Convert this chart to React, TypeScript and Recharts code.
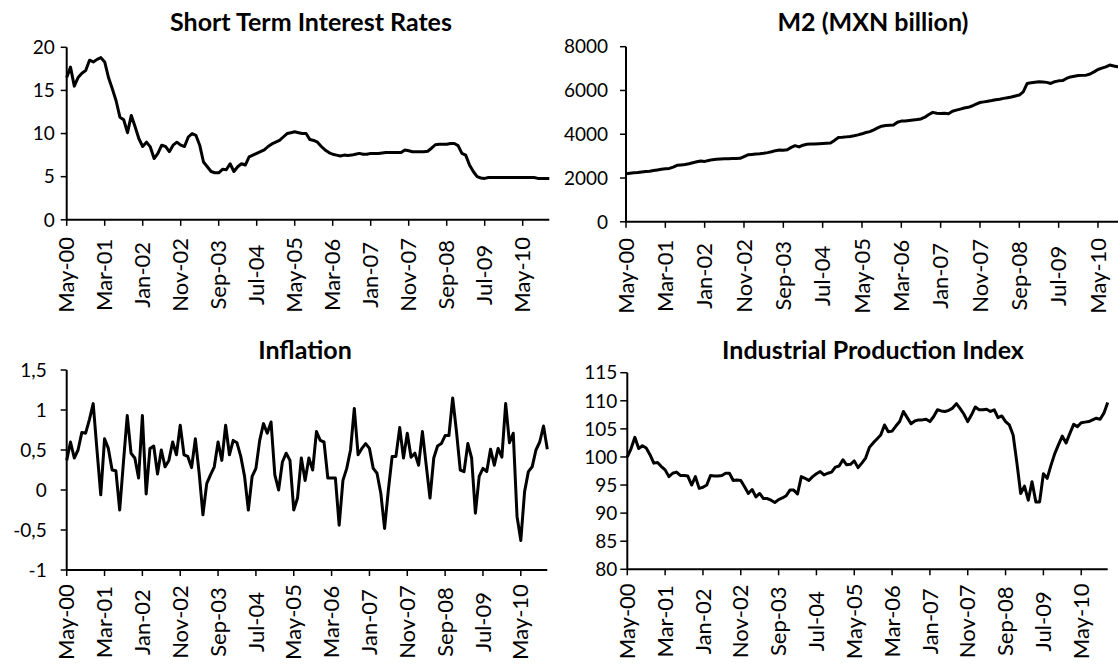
import React from "react";
import { LineChart, Line, XAxis, YAxis } from "recharts";

// monthly observations, May-2000 .. Dec-2010 (128 months)
const MONTHS = ["Jan", "Feb", "Mar", "Apr", "May", "Jun", "Jul", "Aug", "Sep", "Oct", "Nov", "Dec"];
const months: string[] = [];
for (let i = 0; i < 128; i++) {
  const m = (4 + i) % 12;
  const y = Math.floor((4 + i) / 12);
  months.push(`${MONTHS[m]}-${String(y).padStart(2, "0")}`);
}

const interestRates = [
  16.5, 17.7, 15.5, 16.5, 17.0, 17.3, 18.5, 18.3, 18.6, 18.8,
  18.3, 16.5, 15.2, 13.8, 11.9, 11.6, 10.1, 12.1, 10.8, 9.4,
  8.5, 9.0, 8.45, 7.1, 7.7, 8.65, 8.5, 7.9, 8.65, 9.0,
  8.65, 8.5, 9.6, 10.0, 9.8, 8.65, 6.7, 6.15, 5.6, 5.45,
  5.45, 5.85, 5.8, 6.5, 5.6, 6.15, 6.5, 6.35, 7.3, 7.5,
  7.7, 7.9, 8.1, 8.5, 8.8, 9.0, 9.2, 9.6, 10.0, 10.1,
  10.2, 10.1, 10.0, 10.0, 9.3, 9.2, 9.0, 8.5, 8.1, 7.8,
  7.6, 7.5, 7.4, 7.5, 7.45, 7.5, 7.6, 7.7, 7.6, 7.6,
  7.7, 7.7, 7.7, 7.75, 7.8, 7.8, 7.8, 7.8, 7.8, 8.1,
  8.0, 7.9, 7.9, 7.9, 7.9, 7.95, 8.3, 8.7, 8.75, 8.75,
  8.75, 8.85, 8.85, 8.6, 7.7, 7.5, 6.35, 5.6, 5.0, 4.85,
  4.8, 4.9, 4.9, 4.9, 4.9, 4.9, 4.9, 4.9, 4.9, 4.9,
  4.9, 4.9, 4.9, 4.9, 4.8, 4.8, 4.8, 4.8,
];

const m2 = [
  2200, 2220, 2240, 2250, 2280, 2300, 2310, 2340, 2370, 2400,
  2420, 2440, 2500, 2580, 2600, 2620, 2650, 2700, 2740, 2780,
  2760, 2800, 2840, 2860, 2870, 2880, 2880, 2890, 2890, 2900,
  2980, 3060, 3080, 3100, 3110, 3130, 3160, 3200, 3250, 3280,
  3270, 3290, 3400, 3480, 3420, 3500, 3540, 3550, 3560, 3570,
  3580, 3590, 3600, 3720, 3850, 3860, 3880, 3900, 3930, 3970,
  4020, 4080, 4120, 4200, 4290, 4370, 4400, 4410, 4420, 4550,
  4600, 4610, 4630, 4650, 4670, 4700, 4780, 4900, 5000, 4960,
  4950, 4960, 4940, 5050, 5100, 5150, 5200, 5230, 5290, 5380,
  5450, 5480, 5510, 5540, 5580, 5600, 5640, 5670, 5700, 5750,
  5790, 5940, 6320, 6350, 6380, 6400, 6390, 6370, 6320, 6400,
  6440, 6450, 6550, 6620, 6650, 6680, 6690, 6700, 6750, 6850,
  6960, 7020, 7080, 7160, 7120, 7080, 7100, 7150,
];

const inflation = [
  0.37, 0.6, 0.4, 0.5, 0.72, 0.71, 0.88, 1.08, 0.5, -0.06,
  0.64, 0.52, 0.25, 0.24, -0.25, 0.35, 0.93, 0.46, 0.4, 0.15,
  0.93, -0.05, 0.52, 0.55, 0.2, 0.5, 0.29, 0.37, 0.6, 0.44,
  0.81, 0.44, 0.42, 0.28, 0.64, 0.21, -0.31, 0.08, 0.19, 0.29,
  0.6, 0.37, 0.81, 0.44, 0.62, 0.59, 0.42, 0.17, -0.25, 0.17,
  0.27, 0.62, 0.83, 0.71, 0.85, 0.19, 0.0, 0.35, 0.46, 0.37,
  -0.25, -0.1, 0.4, 0.12, 0.4, 0.25, 0.73, 0.62, 0.6, 0.15,
  0.15, 0.15, -0.44, 0.12, 0.27, 0.5, 1.02, 0.44, 0.52, 0.58,
  0.52, 0.27, 0.21, -0.04, -0.48, 0.0, 0.42, 0.42, 0.78, 0.4,
  0.71, 0.41, 0.46, 0.31, 0.73, 0.31, -0.1, 0.4, 0.55, 0.58,
  0.68, 0.68, 1.15, 0.73, 0.25, 0.23, 0.58, 0.4, -0.29, 0.17,
  0.27, 0.23, 0.51, 0.31, 0.52, 0.41, 1.08, 0.59, 0.71, -0.33,
  -0.63, -0.02, 0.23, 0.29, 0.5, 0.6, 0.8, 0.51,
];

const industrialProduction = [
  100.0, 101.5, 103.5, 101.5, 102.0, 101.6, 100.4, 98.9, 99.0, 98.3,
  97.7, 96.5, 97.1, 97.3, 96.7, 96.7, 96.6, 95.0, 96.5, 94.4,
  94.6, 95.0, 96.7, 96.6, 96.6, 96.7, 97.1, 97.1, 95.8, 95.9,
  95.8, 94.7, 93.5, 94.2, 92.9, 93.5, 92.6, 92.6, 92.3, 91.9,
  92.4, 92.7, 93.1, 94.1, 94.1, 93.4, 96.5, 96.2, 95.8, 96.5,
  97.0, 97.4, 96.8, 97.1, 97.3, 98.2, 98.4, 99.5, 98.6, 98.7,
  99.3, 98.1, 98.9, 99.8, 101.7, 102.5, 103.2, 103.9, 105.7, 104.5,
  104.6, 105.5, 106.3, 108.1, 107.0, 105.9, 106.4, 106.6, 106.6, 106.7,
  106.3, 107.2, 108.4, 108.2, 108.1, 108.3, 108.7, 109.5, 108.6, 107.6,
  106.3, 107.5, 108.9, 108.4, 108.4, 108.5, 108.1, 108.4, 107.0, 107.3,
  106.3, 105.7, 103.9, 98.9, 93.5, 94.8, 92.3, 95.6, 92.0, 92.0,
  97.0, 96.2, 98.5, 100.6, 102.2, 103.7, 102.5, 104.2, 105.8, 105.4,
  106.1, 106.2, 106.3, 106.6, 106.9, 106.7, 107.8, 109.7,
];

const rateTicks = [0, 5, 10, 15, 20];
const m2Ticks = [0, 2000, 4000, 6000, 8000];
const inflationTicks = [-1, -0.5, 0, 0.5, 1, 1.5];
const ipTicks = [80, 85, 90, 95, 100, 105, 110, 115];

const FONT = "Lato, 'Noto Sans', sans-serif";

const MonthTick = (props: any) => {
  const { x, y, payload, offset } = props;
  const cy = y + offset;
  return (
    <text
      x={x}
      y={cy}
      transform={`rotate(-90, ${x}, ${cy})`}
      textAnchor="middle"
      dy="0.35em"
      fill="#000"
      fontSize={22}
      fontFamily={FONT}
    >
      {payload.value}
    </text>
  );
};

type PanelProps = {
  title: string;
  values: number[];
  domain: [number, number];
  ticks: number[];
  fmt?: (v: number) => string;
  left: number;
  top: number;
  width: number;
  height: number;
  margin: { top: number; right: number; bottom: number; left: number };
  yWidth: number;
  xHeight: number;
  labelOffset: number;
  tickSize: number;
  tickMargin: number;
  titleX: number;
  titleTop: number;
};

function Panel(p: PanelProps) {
  const rows = months.map((m, i) => ({ month: m, value: p.values[i] }));
  return (
    <div style={{ position: "absolute", left: p.left, top: p.top, width: p.width, height: p.height }}>
      <div
        style={{
          position: "absolute",
          left: p.titleX - p.left - 250,
          top: p.titleTop - p.top,
          width: 500,
          textAlign: "center",
          fontFamily: FONT,
          fontWeight: 700,
          fontSize: 25,
          lineHeight: "26px",
          color: "#000",
        }}
      >
        {p.title}
      </div>
      <LineChart width={p.width} height={p.height} data={rows} margin={p.margin}>
        <XAxis
          dataKey="month"
          interval={9}
          height={p.xHeight}
          tickSize={6}
          tickMargin={0}
          axisLine={{ stroke: "#000", strokeWidth: 2 }}
          tickLine={{ stroke: "#000", strokeWidth: 1.5 }}
          tick={<MonthTick offset={p.labelOffset} />}
        />
        <YAxis
          domain={p.domain}
          ticks={p.ticks}
          width={p.yWidth}
          interval={0}
          tickSize={p.tickSize}
          tickMargin={p.tickMargin}
          tickFormatter={p.fmt}
          axisLine={{ stroke: "#000", strokeWidth: 2 }}
          tickLine={{ stroke: "#000", strokeWidth: 1.5 }}
          tick={{ fill: "#000", fontSize: 19, fontFamily: FONT }}
        />
        <Line
          type="linear"
          dataKey="value"
          stroke="#000"
          strokeWidth={3}
          strokeLinejoin="round"
          dot={false}
          isAnimationActive={false}
        />
      </LineChart>
    </div>
  );
}

export default function App() {
  return (
    <div style={{ position: "absolute", left: 0, top: 0, width: 1118, height: 666, overflow: "hidden", background: "#fff" }}>
      <Panel
        title="Short Term Interest Rates"
        values={interestRates}
        domain={[0, 20]}
        ticks={rateTicks}
        left={0}
        top={0}
        width={560}
        height={330}
        margin={{ top: 47.3, right: 10.7, bottom: 10.2, left: 0 }}
        yWidth={66.7}
        xHeight={100}
        labelOffset={49}
        tickSize={6}
        tickMargin={6}
        titleX={311}
        titleTop={8}
      />
      <Panel
        title="M2 (MXN billion)"
        values={m2}
        domain={[0, 8000]}
        ticks={m2Ticks}
        left={560}
        top={0}
        width={580}
        height={330}
        margin={{ top: 46.7, right: 14.5, bottom: 8.2, left: 0 }}
        yWidth={66}
        xHeight={100}
        labelOffset={48}
        tickSize={6}
        tickMargin={12}
        titleX={873}
        titleTop={8}
      />
      <Panel
        title="Inflation"
        values={inflation}
        domain={[-1, 1.5]}
        ticks={inflationTicks}
        fmt={(v) => String(v).replace(".", ",")}
        left={0}
        top={330}
        width={560}
        height={336}
        margin={{ top: 40, right: 12.7, bottom: 6, left: 0 }}
        yWidth={66.7}
        xHeight={90}
        labelOffset={46}
        tickSize={6}
        tickMargin={14}
        titleX={305}
        titleTop={336}
      />
      <Panel
        title="Industrial Production Index"
        values={industrialProduction}
        domain={[80, 115]}
        ticks={ipTicks}
        left={560}
        top={330}
        width={558}
        height={336}
        margin={{ top: 42.7, right: 10.3, bottom: 6.7, left: 0 }}
        yWidth={67.3}
        xHeight={90}
        labelOffset={46}
        tickSize={7}
        tickMargin={3}
        titleX={873}
        titleTop={336}
      />
    </div>
  );
}
